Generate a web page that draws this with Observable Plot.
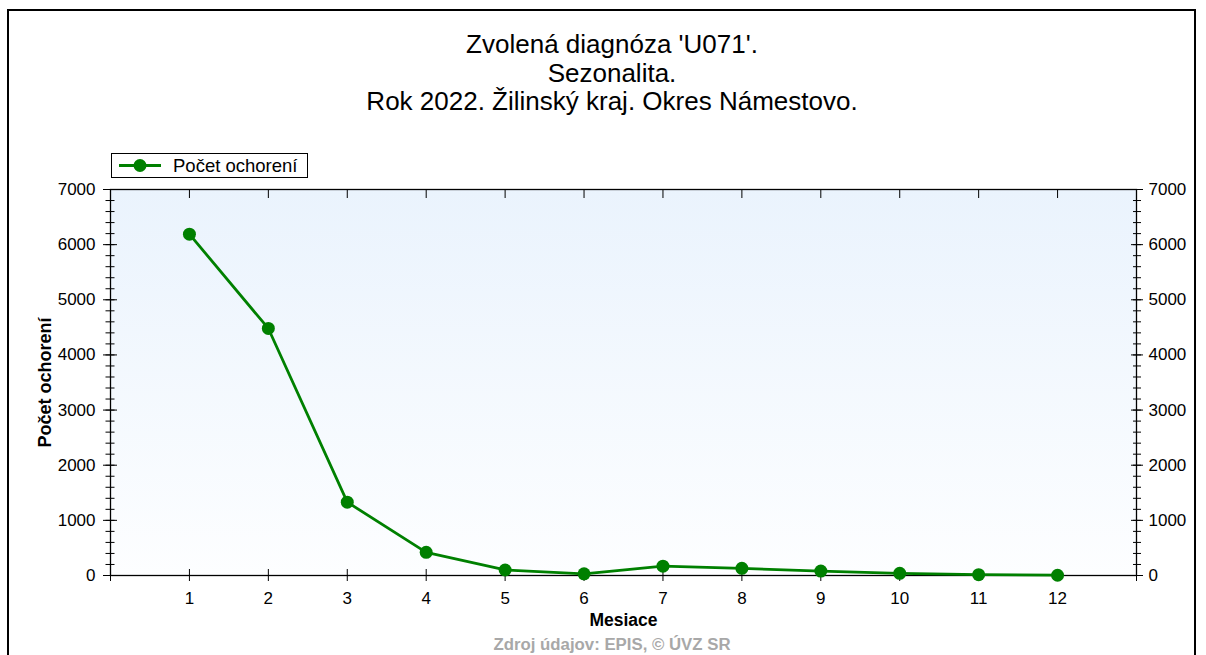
<!DOCTYPE html>
<html><head><meta charset="utf-8">
<script src="https://cdn.jsdelivr.net/npm/d3@7"></script>
<script src="https://cdn.jsdelivr.net/npm/@observablehq/plot@0.6"></script>
<style>
body{margin:0;background:#fff;font-family:"Liberation Sans",Arial,sans-serif}
#page{position:relative;width:1206px;height:655px;overflow:hidden;background:#fff}
#border{position:absolute;left:7px;top:9px;width:1189px;height:700px;border:2px solid #000;box-sizing:border-box}
#title{position:absolute;left:0;width:1224px;top:30px;text-align:center;font-size:26px;line-height:28.5px;color:#000}
#legend{position:absolute;left:111px;top:153px;width:197px;height:25px;border:1px solid #000;box-sizing:border-box;background:#fff}
#legend svg{position:absolute;left:5px;top:0}
#legend span{position:absolute;left:61px;top:0;line-height:23px;font-size:18.5px;color:#000}
#chart{position:absolute;left:0;top:140px}
#caption{position:absolute;left:0;width:1224px;top:635px;line-height:19px;text-align:center;font-size:16.8px;font-weight:bold;color:#a8a8a8}
</style></head>
<body>
<div id="page">
  <div id="border"></div>
  <div id="title"></div>
  <div id="legend"><svg width="50" height="23"><line x1="2" x2="44" y1="11.5" y2="11.5" stroke="#008000" stroke-width="2.8"/><circle cx="23" cy="11.5" r="6.5" fill="#008000"/></svg><span></span></div>
  <div id="chart"></div>
  <div id="caption"></div>
</div>
<script>
const titleLines = ["Zvolená diagnóza 'U071'.", "Sezonalita.", "Rok 2022. Žilinský kraj. Okres Námestovo."];
const seriesName = "Počet ochorení";
const xLabel = "Mesiace";
const yLabel = "Počet ochorení";
const caption = "Zdroj údajov: EPIS, © ÚVZ SR";
const months = [1, 2, 3, 4, 5, 6, 7, 8, 9, 10, 11, 12];
const cases = [6190, 4480, 1330, 420, 100, 30, 170, 130, 80, 40, 15, 5];
const yMajorTicks = [0, 1000, 2000, 3000, 4000, 5000, 6000, 7000];
const yMinorTicks = d3.range(0, 7001, 200);
const xTicks = [0, 1, 2, 3, 4, 5, 6, 7, 8, 9, 10, 11, 12, 13];

document.getElementById("title").innerHTML = titleLines.map(t => `<div>${t}</div>`).join("");
document.querySelector("#legend span").textContent = seriesName;
document.getElementById("caption").textContent = caption;

const data = months.map((m, i) => ({month: m, value: cases[i]}));
const green = "#008000";
const blank = () => "";

const chart = Plot.plot({
  width: 1206,
  height: 500,
  marginTop: 49,
  marginBottom: 65,
  marginLeft: 110,
  marginRight: 70,
  style: {fontFamily: "'Liberation Sans', Arial, sans-serif", fontSize: "17px", color: "#000", background: "transparent"},
  x: {domain: [0, 13]},
  y: {domain: [0, 7000]},
  marks: [
    Plot.frame({fill: "url(#bgGrad)", stroke: null}),
    Plot.axisY({anchor: "left", ticks: yMinorTicks, tickSize: 9, dx: 4.5, tickFormat: blank, label: null, stroke: "#000"}),
    Plot.axisY({anchor: "right", ticks: yMinorTicks, tickSize: 8, dx: -4, tickFormat: blank, label: null, stroke: "#000"}),
    Plot.axisY({anchor: "left", ticks: yMajorTicks, tickSize: 14, dx: 7, tickPadding: 8, tickFormat: d => String(d), label: null, stroke: "#000", fill: "#000"}),
    Plot.axisY({anchor: "right", ticks: yMajorTicks, tickSize: 12, dx: -6, tickPadding: 6, tickFormat: d => String(d), label: null, stroke: "#000", fill: "#000"}),
    Plot.axisX({anchor: "bottom", ticks: xTicks, tickSize: 12, dy: -6, tickPadding: 10, tickFormat: d => (d >= 1 && d <= 12 ? String(d) : ""), label: null, stroke: "#000", fill: "#000"}),
    Plot.axisX({anchor: "top", ticks: xTicks, tickSize: 8, dy: 8, tickFormat: blank, label: null, stroke: "#000"}),
    Plot.frame({stroke: "#000", strokeWidth: 1.3}),
    Plot.line(data, {x: "month", y: "value", stroke: green, strokeWidth: 2.8}),
    Plot.dot(data, {x: "month", y: "value", r: 6.5, fill: green, stroke: null}),
    Plot.text([yLabel], {frameAnchor: "left", dx: -65, rotate: -90, fontWeight: "bold", fontSize: 18, fill: "#000", textAnchor: "middle", lineAnchor: "middle"}),
    Plot.text([xLabel], {frameAnchor: "bottom", dy: 45, fontWeight: "bold", fontSize: 17.5, fill: "#000", textAnchor: "middle", lineAnchor: "middle"})
  ]
});

const ns = "http://www.w3.org/2000/svg";
const defs = document.createElementNS(ns, "defs");
defs.innerHTML = `<linearGradient id="bgGrad" x1="0" y1="0" x2="0" y2="1"><stop offset="0" stop-color="#eaf3fd"/><stop offset="1" stop-color="#fdfeff"/></linearGradient>`;
chart.insertBefore(defs, chart.firstChild);
document.getElementById("chart").appendChild(chart);
</script>
</body></html>
